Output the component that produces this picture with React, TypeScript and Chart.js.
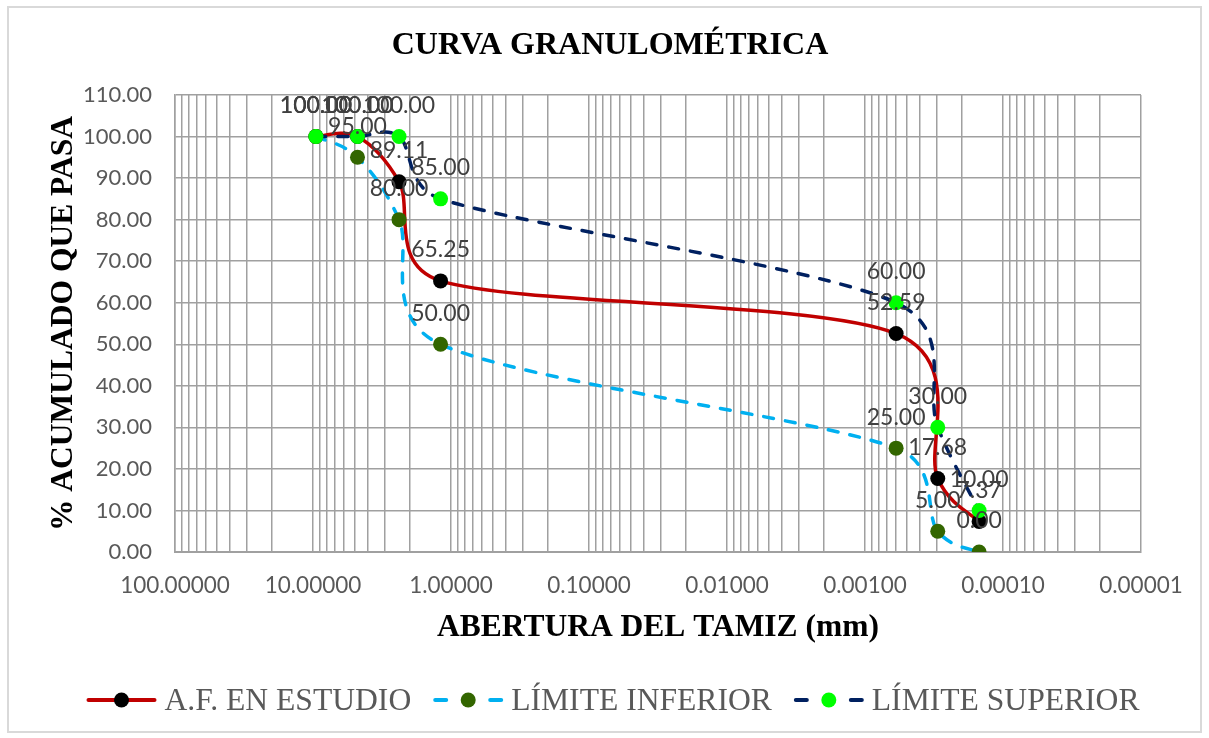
import React, { useEffect, useRef } from 'react';
import { Chart, registerables } from 'chart.js';

Chart.register(...registerables);

// Sieve openings (mm) and cumulative % passing
const sieveOpenings = [9.525, 4.76, 2.38, 1.19, 0.000595, 0.000297, 0.000149];
const sampleValues = [100, 100, 89.11, 65.25, 52.59, 17.68, 7.37];
const lowerLimit = [100, 95, 80, 50, 25, 5, 0];
const upperLimit = [100, 100, 100, 85, 60, 30, 10];

const seriesNames = ['A.F. EN ESTUDIO', 'LÍMITE INFERIOR', 'LÍMITE SUPERIOR'];
const chartTitle = 'CURVA GRANULOMÉTRICA';
const xAxisTitle = 'ABERTURA DEL TAMIZ (mm)';
const yAxisTitle = '% ACUMULADO QUE PASA';

// Decades shown on the log axis (labelled ticks)
const xDecades = [100, 10, 1, 0.1, 0.01, 0.001, 0.0001, 0.00001];
const yMin = 0;
const yMax = 110;
const yStep = 10;

const lineColors = ['#C00000', '#00B0F0', '#002060'];
const markerColors = ['#000000', '#336600', '#00FF00'];

const NUM_FONT = 'Lato, "Open Sans", sans-serif';
const SERIF = '"Liberation Serif", "DejaVu Serif", serif';

// every 1..9 × 10^n between the smallest and largest decade (minor grid)
function logGridValues(): number[] {
  const vals: number[] = [];
  const lo = Math.round(Math.log10(Math.min(...xDecades)));
  const hi = Math.round(Math.log10(Math.max(...xDecades)));
  for (let e = lo; e < hi; e++) {
    for (let k = 1; k <= 9; k++) vals.push(parseFloat((k * Math.pow(10, e)).toPrecision(6)));
  }
  vals.push(Math.pow(10, hi));
  return vals;
}

function isDecade(v: number): boolean {
  const l = Math.log10(v);
  return Math.abs(l - Math.round(l)) < 1e-9;
}

const dist = (a: any, b: any) => Math.hypot(b.x - a.x, b.y - a.y);

// Spreadsheet-style smoothed lines: Bezier arms of 1/6 of the neighbour chord,
// shortened to half of the segment when the neighbours are far away.
const smoothedLines = {
  id: 'smoothedLines',
  beforeDatasetDraw(chart: any, args: any) {
    const meta = args.meta;
    const line = meta.dataset;
    if (!line) return;
    line.updateControlPoints(chart.chartArea, meta.iScale ? meta.iScale.axis : 'x');
    const pts = meta.data;
    const n = pts.length;
    for (let i = 0; i < n - 1; i++) {
      const p0 = pts[Math.max(i - 1, 0)];
      const p1 = pts[i];
      const p2 = pts[i + 1];
      const p3 = pts[Math.min(i + 2, n - 1)];
      const d12 = dist(p1, p2);
      const d02 = dist(p0, p2);
      const d13 = dist(p1, p3);
      let f = 1 / 6;
      let g = 1 / 6;
      if (!(d02 / 6 < d12 / 2 && d13 / 6 < d12 / 2)) {
        if (d02 > 0 && d02 / 6 >= d12 / 2) f = d12 / d02 / 2;
        if (d13 > 0 && d13 / 6 >= d12 / 2) g = d12 / d13 / 2;
      }
      p1.cp2x = p1.x + (p2.x - p0.x) * f;
      p1.cp2y = p1.y + (p2.y - p0.y) * f;
      p2.cp1x = p2.x - (p3.x - p1.x) * g;
      p2.cp1y = p2.y - (p3.y - p1.y) * g;
    }
  },
};

const pointValueLabels = {
  id: 'pointValueLabels',
  afterDatasetsDraw(chart: any) {
    const ctx = chart.ctx;
    ctx.save();
    ctx.font = `23px ${NUM_FONT}`;
    ctx.fillStyle = '#404040';
    ctx.textAlign = 'center';
    ctx.textBaseline = 'middle';
    chart.data.datasets.forEach((ds: any, i: number) => {
      const meta = chart.getDatasetMeta(i);
      meta.data.forEach((pt: any, j: number) => {
        ctx.fillText(Number(ds.data[j].y).toFixed(2), pt.x, pt.y - 31);
      });
    });
    ctx.restore();
  },
};

const frameAndText = {
  id: 'frameAndText',
  beforeDraw(chart: any) {
    const ctx = chart.ctx;
    ctx.save();
    ctx.fillStyle = '#ffffff';
    ctx.fillRect(0, 0, chart.width, chart.height);
    ctx.strokeStyle = '#d9d9d9';
    ctx.lineWidth = 2;
    ctx.strokeRect(8, 7, chart.width - 16, chart.height - 13);
    ctx.restore();
  },
  afterDraw(chart: any) {
    const ctx = chart.ctx;
    const area = chart.chartArea;
    ctx.save();
    ctx.fillStyle = '#000000';
    ctx.textAlign = 'center';
    ctx.textBaseline = 'middle';
    ctx.font = `bold 32px ${SERIF}`;
    ctx.fillText(chartTitle, 610, 46);
    ctx.font = `bold 31.5px ${SERIF}`;
    ctx.fillText(xAxisTitle, (area.left + area.right) / 2, 628);
    ctx.save();
    ctx.translate(64, (area.top + area.bottom) / 2);
    ctx.rotate(-Math.PI / 2);
    ctx.fillText(yAxisTitle, 0, 0);
    ctx.restore();

    // legend: line / marker / line symbol followed by the series name, centred as a row
    ctx.font = `31.6px ${SERIF}`;
    ctx.textAlign = 'left';
    const ly = 700;
    const symW = 66;
    const symGap = 10;
    const itemGap = 24;
    const widths = seriesNames.map((s) => ctx.measureText(s).width);
    const total =
      widths.reduce((a, b) => a + b, 0) + seriesNames.length * (symW + symGap) + (seriesNames.length - 1) * itemGap;
    let x = 614 - total / 2;
    chart.data.datasets.forEach((ds: any, i: number) => {
      ctx.strokeStyle = lineColors[i];
      ctx.lineWidth = 4;
      ctx.lineCap = 'round';
      ctx.beginPath();
      if (i === 0) {
        ctx.moveTo(x, ly);
        ctx.lineTo(x + symW, ly);
      } else {
        ctx.moveTo(x, ly);
        ctx.lineTo(x + 11, ly);
        ctx.moveTo(x + symW - 11, ly);
        ctx.lineTo(x + symW, ly);
      }
      ctx.stroke();
      ctx.fillStyle = markerColors[i];
      ctx.beginPath();
      ctx.arc(x + symW / 2, ly, 7.5, 0, Math.PI * 2);
      ctx.fill();
      x += symW + symGap;
      ctx.fillStyle = '#595959';
      ctx.fillText(seriesNames[i], x, ly + 2);
      x += widths[i] + itemGap;
    });
    ctx.restore();
  },
};

export default function App() {
  const canvasRef = useRef<HTMLCanvasElement | null>(null);

  useEffect(() => {
    const canvas = canvasRef.current;
    if (!canvas) return;
    const gridValues = logGridValues();
    const toPoints = (ys: number[]) => sieveOpenings.map((x, i) => ({ x, y: ys[i] }));
    const series = [sampleValues, lowerLimit, upperLimit];

    const chart = new Chart(canvas, {
      type: 'line',
      data: {
        datasets: series.map((ys, i) => ({
          label: seriesNames[i],
          data: toPoints(ys),
          borderColor: lineColors[i],
          borderWidth: 3.5,
          borderDash: i === 0 ? [] : [10, 12],
          borderCapStyle: 'round' as const,
          tension: 0.4,
          fill: false,
          pointRadius: 7.5,
          pointBorderWidth: 0,
          pointBackgroundColor: markerColors[i],
          pointBorderColor: markerColors[i],
          order: 3 - i,
        })),
      },
      options: {
        animation: false,
        responsive: true,
        maintainAspectRatio: false,
        layout: { padding: { left: 0, top: 95, right: 68, bottom: 0 } },
        plugins: {
          legend: { display: false },
          title: { display: false },
          tooltip: { enabled: false },
        },
        scales: {
          x: {
            type: 'logarithmic',
            reverse: true,
            min: Math.min(...xDecades),
            max: Math.max(...xDecades),
            afterBuildTicks: (scale: any) => {
              scale.ticks = gridValues.map((v) => ({ value: v, major: isDecade(v) }));
            },
            afterFit: (scale: any) => {
              scale.height = 186;
            },
            grid: { color: '#a0a0a0', lineWidth: 1.5, drawTicks: false },
            border: { color: '#a0a0a0', width: 2 },
            ticks: {
              autoSkip: false,
              maxRotation: 0,
              minRotation: 0,
              padding: 20,
              color: '#595959',
              font: { family: NUM_FONT, size: 22.5 },
              callback: (v: any) => (isDecade(Number(v)) ? Number(v).toFixed(5) : ''),
            },
          },
          y: {
            min: yMin,
            max: yMax,
            afterFit: (scale: any) => {
              scale.width = 175;
            },
            grid: { color: '#a0a0a0', lineWidth: 1.5, drawTicks: false },
            border: { color: '#a0a0a0', width: 1.5 },
            ticks: {
              stepSize: yStep,
              padding: 23,
              color: '#595959',
              font: { family: NUM_FONT, size: 22 },
              callback: (v: any) => Number(v).toFixed(2),
            },
          },
        },
      },
      plugins: [frameAndText, smoothedLines, pointValueLabels],
    });
    return () => chart.destroy();
  }, []);

  return (
    <div style={{ position: 'fixed', left: 0, top: 0, width: 1209, height: 738, background: '#fff' }}>
      <canvas ref={canvasRef} />
    </div>
  );
}
